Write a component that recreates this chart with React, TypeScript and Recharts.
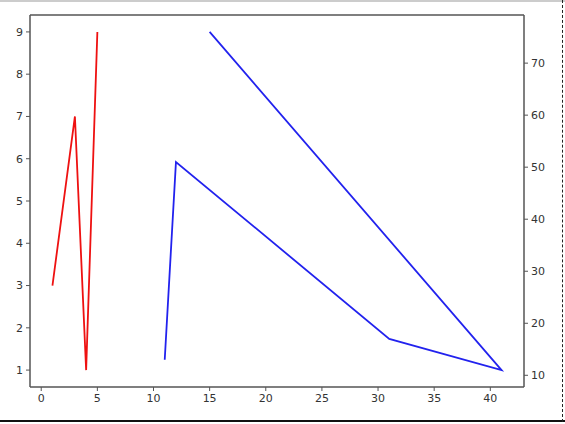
import React from "react";
import { LineChart, Line, XAxis, YAxis, ReferenceLine } from "recharts";

const redX = [1, 3, 4, 5];
const redY = [3, 7, 1, 9];
const blueX = [11, 12, 31, 41, 15];
const blueY = [13, 51, 17, 11, 76];
const xTicks = [0, 5, 10, 15, 20, 25, 30, 35, 40];
const leftTicks = [1, 2, 3, 4, 5, 6, 7, 8, 9];
const rightTicks = [10, 20, 30, 40, 50, 60, 70];

const redData = redX.map((x, i) => ({ x, y: redY[i] }));
const blueData = blueX.map((x, i) => ({ x, y: blueY[i] }));

const tickStyle = { fontSize: 11, fill: "#333", fontFamily: "DejaVu Sans" };
const axisColor = "#555";

export default function App() {
  return (
    <div style={{ position: "absolute", left: 0, top: 0, width: 565, height: 424, background: "#fff" }}>
      <LineChart width={565} height={424} margin={{ top: 15, right: 0, bottom: 0, left: 0 }}>
        <XAxis
          xAxisId="b"
          dataKey="x"
          type="number"
          domain={[-1, 43]}
          ticks={xTicks}
          allowDataOverflow
          height={37}
          tick={tickStyle}
          tickSize={4}
          tickMargin={3}
          stroke={axisColor}
          tickLine={{ stroke: axisColor }}
          axisLine={{ stroke: axisColor, strokeWidth: 1.5 }}
        />
        <YAxis
          yAxisId="l"
          type="number"
          domain={[0.6, 9.4]}
          ticks={leftTicks}
          allowDataOverflow
          width={30}
          tick={tickStyle}
          tickSize={4}
          tickMargin={3}
          stroke={axisColor}
          tickLine={{ stroke: axisColor }}
          axisLine={{ stroke: axisColor, strokeWidth: 1.5 }}
        />
        <YAxis
          yAxisId="r"
          orientation="right"
          type="number"
          domain={[7.75, 79.25]}
          ticks={rightTicks}
          allowDataOverflow
          width={41}
          tick={tickStyle}
          tickSize={4}
          tickMargin={3}
          stroke={axisColor}
          tickLine={{ stroke: axisColor }}
          axisLine={{ stroke: axisColor, strokeWidth: 1.5 }}
        />
        <ReferenceLine xAxisId="b" yAxisId="l" y={9.4} stroke={axisColor} strokeWidth={1.5} />
        <Line
          data={redData}
          xAxisId="b"
          yAxisId="l"
          dataKey="y"
          stroke="#ee1111"
          strokeWidth={1.8}
          dot={false}
          isAnimationActive={false}
        />
        <Line
          data={blueData}
          xAxisId="b"
          yAxisId="r"
          dataKey="y"
          stroke="#2222ee"
          strokeWidth={1.8}
          dot={false}
          isAnimationActive={false}
        />
      </LineChart>
      <div style={{ position: "absolute", left: 0, top: 420, width: 565, height: 2, background: "#111" }} />
      <div style={{ position: "absolute", left: 0, top: 0, width: 565, height: 2, background: "#ccc" }} />
      <div style={{ position: "absolute", left: 562, top: 0, width: 0, height: 422, borderLeft: "1px dashed #222" }} />
    </div>
  );
}
